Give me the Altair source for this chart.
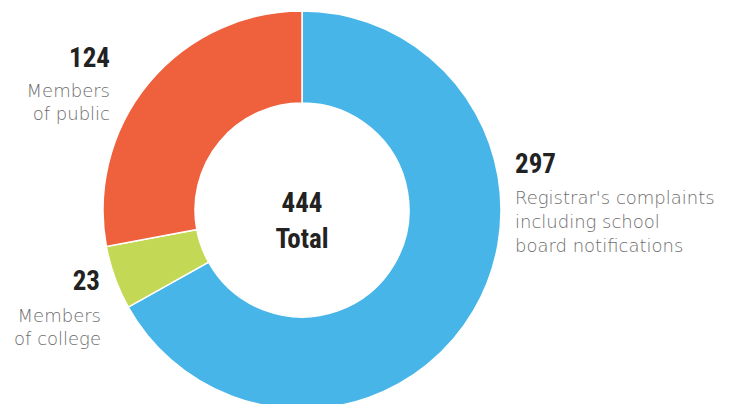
import altair as alt
import pandas as pd

# ---- data ----
categories = ["Registrar's complaints including school board notifications",
              "Members of college", "Members of public"]
values = [297, 23, 124]
slice_order = [0, 1, 2]
colors = ["#47b5e8", "#c3d955", "#ef603d"]
total_label = ["444", "Total"]
desc_124 = ["Members", "of public"]
desc_23 = ["Members", "of college"]
desc_297 = ["Registrar's complaints", "including school", "board notifications"]

df = pd.DataFrame({"category": categories, "value": values, "order": slice_order})

DY = 0
CX, CY = 294, 197 + DY

donut = alt.Chart(df).mark_arc(
    innerRadius=107, outerRadius=199, stroke="white", strokeWidth=1.5
).encode(
    theta=alt.Theta("value:Q", stack=True),
    color=alt.Color("category:N", scale=alt.Scale(domain=categories, range=colors), legend=None),
    order=alt.Order("order:Q"),
    x=alt.value(CX),
    y=alt.value(CY),
)

NUM_FONT = "Roboto Condensed, Liberation Sans Narrow, Roboto, sans-serif"
DESC_FONT = "DejaVu Sans, sans-serif"


def txt(text, x, y, align, big):
    d = pd.DataFrame({"t": [text]})
    if big:
        m = alt.Chart(d).mark_text(
            font=NUM_FONT, fontSize=27, fontWeight="bold", color="#222222",
            align=align, baseline="alphabetic")
    else:
        m = alt.Chart(d).mark_text(
            font=DESC_FONT, fontSize=18, fontWeight=300, color="#6c6c6c",
            align=align, baseline="alphabetic")
    return m.encode(text="t:N", x=alt.value(x), y=alt.value(y + DY))


layers = [donut]
# center
layers.append(txt(total_label[0], CX, 199, "center", True))
layers.append(txt(total_label[1], CX, 235, "center", True))
# 124
layers.append(txt(str(values[2]), 102, 54, "right", True))
layers.append(txt(desc_124[0], 102, 84, "right", False))
layers.append(txt(desc_124[1], 102, 107, "right", False))
# 23
layers.append(txt(str(values[1]), 92, 277, "right", True))
layers.append(txt(desc_23[0], 93, 309, "right", False))
layers.append(txt(desc_23[1], 93, 332, "right", False))
# 297
layers.append(txt(str(values[0]), 507, 160, "left", True))
for i, line in enumerate(desc_297):
    layers.append(txt(line, 507, 191 + 24 * i, "left", False))

chart = alt.layer(*layers).properties(
    width=714, height=396,
    autosize=alt.AutoSizeParams(type="fit", contains="padding"),
    padding=0,
).configure_view(stroke=None)

chart.save("out.html", embed_options={"renderer": "svg", "actions": False})
